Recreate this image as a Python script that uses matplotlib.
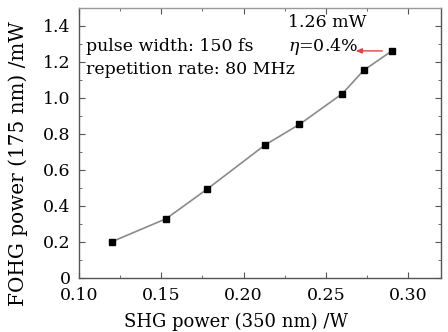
import matplotlib
matplotlib.use("Agg")
import matplotlib.pyplot as plt
from matplotlib.ticker import MultipleLocator, FixedFormatter, FixedLocator

shg_power = [0.120, 0.153, 0.178, 0.213, 0.234, 0.260, 0.273, 0.290]
fohg_power = [0.20, 0.328, 0.493, 0.737, 0.852, 1.022, 1.152, 1.259]
x_ticks = [0.10, 0.15, 0.20, 0.25, 0.30]
x_labels = ["0.10", "0.15", "0.20", "0.25", "0.30"]
y_ticks = [0, 0.2, 0.4, 0.6, 0.8, 1.0, 1.2, 1.4]
y_labels = ["0", "0.2", "0.4", "0.6", "0.8", "1.0", "1.2", "1.4"]

plt.rcParams['font.family'] = ['DejaVu Serif']
plt.rcParams['mathtext.fontset'] = 'dejavuserif'

fig = plt.figure(figsize=(4.48, 3.32), dpi=100)
ax = fig.add_axes([79/448, 1-277.7/332, (441-79)/448, (277.7-7.7)/332])

ax.plot(shg_power, fohg_power, color='#8a8a8a', lw=1.2, marker='s', ms=4.7,
        mfc='black', mec='black', zorder=3)

ax.set_xlim(0.10, 0.32)
ax.set_ylim(0, 1.5)
ax.xaxis.set_major_locator(FixedLocator(x_ticks))
ax.xaxis.set_major_formatter(FixedFormatter(x_labels))
ax.yaxis.set_major_locator(FixedLocator(y_ticks))
ax.yaxis.set_major_formatter(FixedFormatter(y_labels))
ax.xaxis.set_minor_locator(MultipleLocator(0.025))
ax.yaxis.set_minor_locator(MultipleLocator(0.1))
ax.tick_params(which='both', direction='in', top=True, right=True, labelsize=12.5,
               color='#555555')
ax.tick_params(axis='x', which='both', pad=6.5)
ax.tick_params(axis='y', which='both', pad=6.0)
ax.tick_params(which='major', length=4)
ax.tick_params(which='minor', length=2)
for s in ax.spines.values():
    s.set_color('#555555')
    s.set_linewidth(1.0)
ax.spines['top'].set_color('#999999')

ax.set_xlabel('SHG power (350 nm) /W', fontsize=13)
ax.set_ylabel('FOHG power (175 nm) /mW', fontsize=14.4)
ax.xaxis.set_label_coords(0.434, -0.13)
ax.yaxis.set_label_coords(-0.14, 0.423)

ax.text(0.104, 1.287, 'pulse width: 150 fs', fontsize=12.5, va='center', ha='left')
ax.text(0.104, 1.154, 'repetition rate: 80 MHz', fontsize=12.5, va='center', ha='left')
ax.text(0.227, 1.42, '1.26 mW', fontsize=12.5, va='center', ha='left')
ax.text(0.227, 1.287, r'$\eta$=0.4%', fontsize=12.5, va='center', ha='left')
ax.annotate('', xy=(0.2665, 1.26), xytext=(0.2860, 1.26),
            arrowprops=dict(arrowstyle='-|>,head_length=0.35,head_width=0.15',
                            color='#e84040', lw=1.0))

fig.savefig('out.png', dpi=100)
